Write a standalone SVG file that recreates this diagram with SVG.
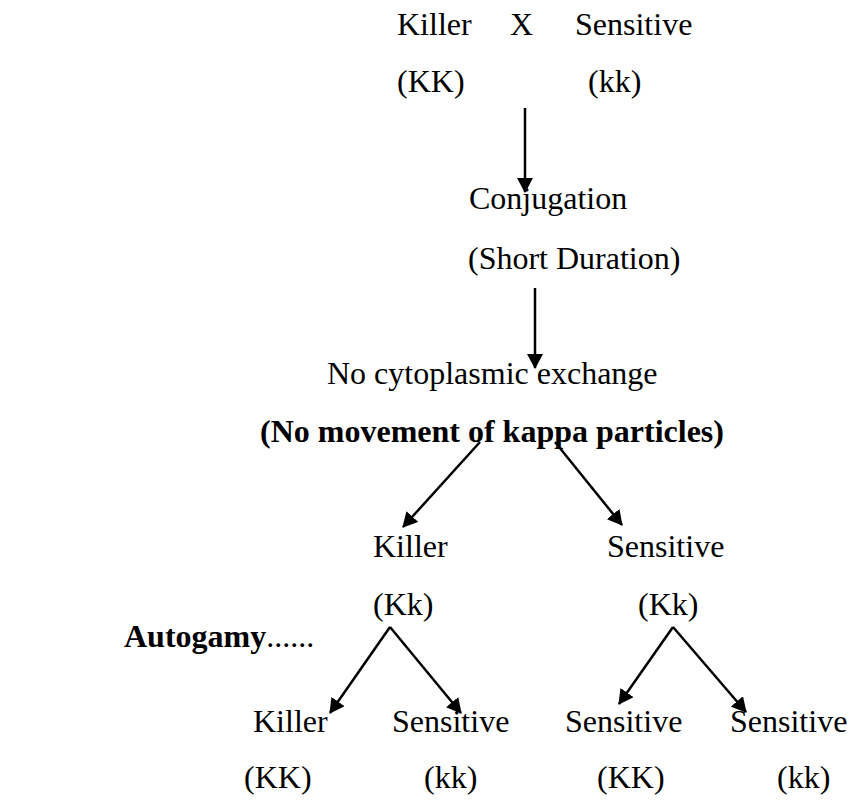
<svg xmlns="http://www.w3.org/2000/svg" width="854" height="800" viewBox="0 0 854 800">
<style>
text{font-family:"Liberation Serif",Tinos,"Times New Roman","DejaVu Serif",serif;font-size:32px;fill:#000}
.b{font-weight:bold}
.c{stroke:#000;stroke-width:2.5;fill:none;marker-end:url(#ah)}
</style>
<defs>
<marker id="ah" markerUnits="userSpaceOnUse" markerWidth="16" markerHeight="16" refX="14" refY="8" orient="auto">
<path d="M0,0 L15,8 L0,16 z" fill="#000"/>
</marker>
</defs>
<rect width="854" height="800" fill="#fff"/>
<g id="parents">
<text x="397" y="35">Killer</text>
<text x="510" y="35">X</text>
<text x="575" y="35">Sensitive</text>
<text x="397" y="92">(KK)</text>
<text x="588" y="92">(kk)</text>
</g>
<g id="conjugation">
<text x="469" y="209">Conjugation</text>
<text x="468" y="269">(Short Duration)</text>
</g>
<g id="noexchange">
<text x="327" y="384">No cytoplasmic exchange</text>
<text x="260" y="442" class="b">(No movement of kappa particles)</text>
</g>
<g id="f1-killer">
<text x="373" y="557">Killer</text>
<text x="373" y="615">(Kk)</text>
</g>
<g id="f1-sensitive">
<text x="607" y="557">Sensitive</text>
<text x="638" y="615">(Kk)</text>
</g>
<g id="autogamy">
<text x="124" y="647"><tspan class="b">Autogamy</tspan>......</text>
</g>
<g id="f2-1"><text x="253" y="732">Killer</text><text x="244" y="788">(KK)</text></g>
<g id="f2-2"><text x="392" y="732">Sensitive</text><text x="424" y="788">(kk)</text></g>
<g id="f2-3"><text x="565" y="732">Sensitive</text><text x="597" y="788">(KK)</text></g>
<g id="f2-4"><text x="730" y="732">Sensitive</text><text x="777" y="788">(kk)</text></g>
<g id="connectors">
<line class="c" x1="525" y1="108" x2="525" y2="192"/>
<line class="c" x1="535" y1="288" x2="535" y2="368"/>
<line class="c" x1="480" y1="442" x2="403" y2="527"/>
<line class="c" x1="555" y1="442" x2="622" y2="525"/>
<line class="c" x1="390" y1="627" x2="330" y2="713"/>
<line class="c" x1="390" y1="627" x2="461" y2="713"/>
<line class="c" x1="673" y1="627" x2="619" y2="704"/>
<line class="c" x1="673" y1="627" x2="746" y2="712"/>
</g>
</svg>
